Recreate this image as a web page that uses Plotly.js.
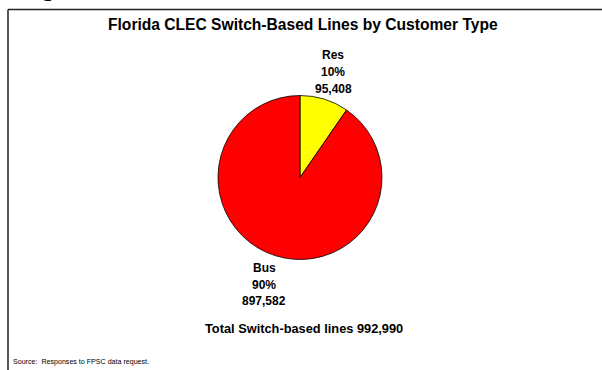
<!DOCTYPE html>
<html>
<head>
<meta charset="utf-8">
<script src="https://cdn.plot.ly/plotly-3.0.1.min.js"></script>
<style>html,body{margin:0;padding:0;background:#fff;}#chart{width:602px;height:370px;}</style>
</head>
<body>
<div id="chart"></div>
<script>
var categories = ["Res", "Bus"];
var lineCounts = [95408, 897582];
var sliceColors = ["#ffff00", "#ff0000"];
var chartTitle = "Florida CLEC Switch-Based Lines by Customer Type";
var totalLabel = "Total Switch-based lines ";
var sourceNote = "Source:  Responses to FPSC data request.";

var W = 602, H = 370;
function px(x){return x / W;}
function py(y){return 1 - y / H;}

var total = lineCounts.reduce(function(a,b){return a+b;},0);

var trace = {
  type: "pie",
  labels: categories,
  values: lineCounts,
  sort: false,
  direction: "clockwise",
  rotation: 0,
  marker: {colors: sliceColors, line: {color: "#000000", width: 0.8}},
  textinfo: "none",
  hoverinfo: "none",
  domain: {x: [px(218), px(382)], y: [py(260), py(95)]},
  automargin: false
};

var FONT = "Liberation Sans, Arial, sans-serif";
var annotations = [
  {text: chartTitle, xref: "paper", yref: "paper", x: px(303), y: py(25), xanchor: "center", yanchor: "middle", showarrow: false,
   font: {size: 15.6, weight: "bold", family: FONT}},
  {text: totalLabel + total.toLocaleString("en-US"), xref: "paper", yref: "paper", x: px(303.5), y: py(328), xanchor: "center", yanchor: "middle", showarrow: false,
   font: {size: 12.8, weight: "bold", family: FONT}},
  {text: sourceNote, xref: "paper", yref: "paper", x: px(11), y: py(362), xanchor: "left", yanchor: "middle", showarrow: false,
   font: {size: 7.1, family: FONT}},
  {text: "g", xref: "paper", yref: "paper", x: px(48), y: py(3), xanchor: "center", yanchor: "bottom", showarrow: false,
   font: {size: 24, weight: "bold", family: "Liberation Serif, Times New Roman, serif"}}
];

// slice label placement (layout only): centre x and first line y, line step
var labelPlacement = [
  {x: 333, y: 55, step: 17},
  {x: 264, y: 268, step: 16.5}
];
categories.forEach(function(cat, i){
  var pct = Math.round(lineCounts[i] / total * 100) + "%";
  var lines = [cat, pct, lineCounts[i].toLocaleString("en-US")];
  var p = labelPlacement[i];
  lines.forEach(function(t, k){
    annotations.push({text: t, xref: "paper", yref: "paper", x: px(p.x), y: py(p.y + k * p.step),
      xanchor: "center", yanchor: "middle", showarrow: false, font: {size: 12, weight: "bold", family: FONT}});
  });
});

var layout = {
  width: W, height: H,
  margin: {l: 0, r: 0, t: 0, b: 0},
  paper_bgcolor: "#ffffff",
  showlegend: false,
  font: {family: FONT, color: "#000000"},
  shapes: [
    {type: "line", xref: "paper", yref: "paper", x0: px(8), x1: 1.01, y0: py(9.5), y1: py(9.5), line: {color: "#222222", width: 1.5}},
    {type: "line", xref: "paper", yref: "paper", x0: px(8), x1: px(8), y0: py(9.5), y1: -0.01, line: {color: "#222222", width: 1.5}}
  ],
  annotations: annotations
};

Plotly.newPlot("chart", [trace], layout, {displayModeBar: false, staticPlot: true});
</script>
</body>
</html>
